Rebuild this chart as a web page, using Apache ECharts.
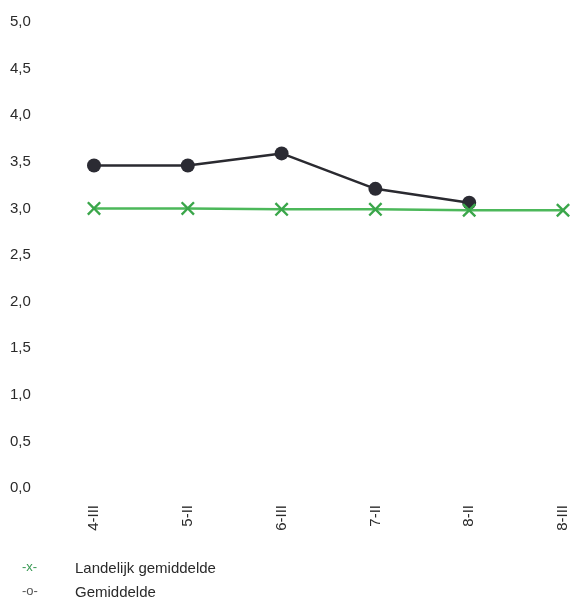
<!DOCTYPE html>
<html><head><meta charset="utf-8">
<script src="https://cdn.jsdelivr.net/npm/echarts@6/dist/echarts.min.js"></script>
<style>html,body{margin:0;padding:0;background:#fff}#c{width:574px;height:600px}</style>
</head><body><div id="c"></div>
<script>
const categories = ['4-III','5-II','6-III','7-II','8-II','8-III'];
const gemiddelde = [3.46, 3.46, 3.59, 3.21, 3.06, null];
const landelijk = [3.00, 3.00, 2.99, 2.99, 2.98, 2.98];
const yTicks = [0, 0.5, 1, 1.5, 2, 2.5, 3, 3.5, 4, 4.5, 5];

const crossPath = 'path://M0,1.2L1.2,0L5,3.8L8.8,0L10,1.2L6.2,5L10,8.8L8.8,10L5,6.2L1.2,10L0,8.8L3.8,5Z';
const chart = echarts.init(document.getElementById('c'));
chart.setOption({
  animation: false,
  grid: {left: 94, right: 11, top: 22, bottom: 112},
  xAxis: {
    type: 'category', data: categories, boundaryGap: false,
    axisLine: {show: false}, axisTick: {show: false}, splitLine: {show: false},
    axisLabel: {rotate: 90, margin: 17, color: '#2a2a2a', fontSize: 15, fontFamily: 'Liberation Sans'}
  },
  yAxis: {
    type: 'value', min: 0, max: 5, interval: 0.5,
    axisLine: {show: false}, axisTick: {show: false}, splitLine: {show: false},
    axisLabel: {align: 'left', margin: 84, color: '#2a2a2a', fontSize: 15, fontFamily: 'Liberation Sans',
      formatter: v => v.toFixed(1).replace('.', ',')}
  },
  series: [
    {type: 'line', name: 'Gemiddelde', data: gemiddelde, symbol: 'circle', symbolSize: 14,
     lineStyle: {color: '#2a2a30', width: 2.5}, itemStyle: {color: '#2b2b33'}, z: 2},
    {type: 'line', name: 'Landelijk gemiddelde', data: landelijk, symbol: crossPath, symbolSize: 14,
     lineStyle: {color: '#4cb85a', width: 2.5}, itemStyle: {color: '#3aa64a'}, z: 3}
  ],
  graphic: [
    {type: 'text', left: 22, top: 561, style: {text: '-x-', fill: '#3a9a55', font: '13px Liberation Sans'}},
    {type: 'text', left: 75, top: 561, style: {text: 'Landelijk gemiddelde', fill: '#2a2a2a', font: '15px Liberation Sans'}},
    {type: 'text', left: 22, top: 585, style: {text: '-o-', fill: '#555', font: '13px Liberation Sans'}},
    {type: 'text', left: 75, top: 585, style: {text: 'Gemiddelde', fill: '#2a2a2a', font: '15px Liberation Sans'}}
  ]
});
</script></body></html>
